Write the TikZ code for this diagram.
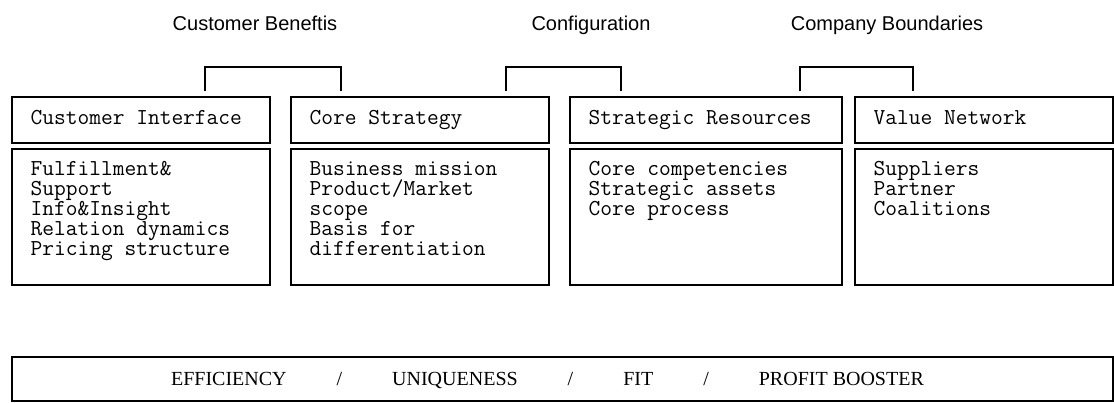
\documentclass[tikz,border=0pt]{standalone}
\usepackage{fontspec}
\setmainfont{Liberation Serif}
\setsansfont{Liberation Sans}
\usetikzlibrary{positioning}
\tikzset{
  frame/.style  ={draw, line width=0.8pt, inner sep=0pt},
  hdrbox/.style ={frame, minimum height=23pt},
  bodybox/.style={frame, minimum height=68pt},
  mono/.style   ={inner sep=0pt, font=\ttfamily\fontsize{11.4pt}{10pt}\selectfont},
  hdrtxt/.style ={mono, text height=7pt, text depth=3pt},
  % first line gets a strut so every list starts at the same baseline
  bodytxt/.style={mono, align=left, execute at begin node=\strut},
  groupttl/.style={anchor=base, inner sep=0pt,
                 font=\sffamily\fontsize{10pt}{12pt}\selectfont},
  bracket/.style={line width=0.8pt},
  bartxt/.style ={inner sep=0pt, font=\rmfamily\fontsize{10pt}{12pt}\selectfont},
}
% name / left edge / width / header / list
\def\blocklist{%
  ci/12/258/Customer Interface/{Fulfillment\&\\Support\\Info\&Insight\\Relation dynamics\\Pricing structure},
  cs/291/258/Core Strategy/{Business mission\\Product/Market\\scope\\Basis for\\differentiation},
  sr/570/272/Strategic Resources/{Core competencies\\Strategic assets\\Core process},
  vn/855/258/Value Network/{Suppliers\\Partner\\Coalitions}}
\def\bracketlist{1/205/341, 2/506/621, 3/800/913}

\begin{document}
\begin{tikzpicture}[x=0.5pt,y=-0.5pt]
\useasboundingbox (0,0) rectangle (1114,402);
% --- group titles ---
\node[groupttl] (t-cb)  at (255,30) {Customer Beneftis};
\node[groupttl] (t-cf)  at (591,30) {Configuration};
\node[groupttl] (t-cbd) at (887,30) {Company Boundaries};
% --- brackets under the titles ---
\foreach \i/\a/\b in \bracketlist {
  \coordinate (bl\i) at (\a,91);
  \coordinate (br\i) at (\b,91);
  \draw[bracket] (bl\i) -- ++(0,-24) -| (br\i);
}
% --- the four building blocks ---
\foreach \n/\x/\w/\hd/\bd in \blocklist {
  \node[hdrbox, minimum width=\w*0.5pt]  (\n-h) at (\x+\w/2,120) {};
  \node[bodybox, minimum width=\w*0.5pt] (\n-b) at (\x+\w/2,217) {};
  \node[hdrtxt, right=9.5pt of \n-h.west] (\n-ht) {\hd};
  \node[bodytxt, below right=6.5pt and 9.5pt of \n-b.north west] (\n-bt) {\bd};
}
% --- bottom bar ---
\node[frame, minimum width=550.5pt, minimum height=22pt] (bar) at (562.5,379) {};
\node[bartxt] (bar-t) at (547.5,380)
  {EFFICIENCY\hspace{25pt}/\hspace{25pt}UNIQUENESS\hspace{25pt}/\hspace{25pt}FIT\hspace{25pt}/\hspace{25pt}PROFIT BOOSTER};
\end{tikzpicture}
\end{document}
